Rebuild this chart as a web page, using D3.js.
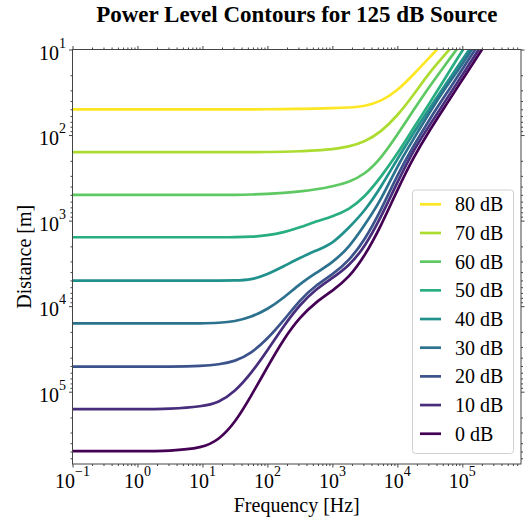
<!DOCTYPE html>
<html>
<head>
  <meta charset='utf-8'>
  <title>Power Level Contours</title>
  <style type='text/css'>
body{
  margin:0;
  background:#fff;
}
svg text{
  font-family: 'Liberation Serif', 'Times New Roman', serif;
  fill:#000;
}
  </style>
</head>
<body>
<div id='chartContainer'></div>

<script src='https://d3js.org/d3.v7.min.js'></script>
<script type='text/javascript'>

// frequency grid [Hz], shared by all curves
var freq = [0.1, 1, 3.16, 10, 17.8, 31.6, 56.2, 100, 178, 316, 562, 1000,
            1780, 3160, 5620, 10000, 17800, 31600, 56200, 100000, 178000, 316000];

// distance [m], one value per frequency
var dist80 = [50, 50, 50, 50, 50, 50, 50, 50, 49.8, 49.4, 49.0, 48.5, 47.8, 46.2, 40.3, 30.4, 19.5, 12.3, 7.7];
var dist70 = [158, 158, 158, 158, 158, 158, 158, 158, 157, 155, 151, 147, 137, 120, 91.7, 59.6, 33.9, 18.2, 11.2, 6.55];
var dist60 = [500, 500, 500, 500, 500, 500, 496, 487, 474, 458, 432, 398, 357, 288, 187, 99.5, 50.7, 26.6, 14.7, 8.1, 4.5];
var dist50 = [1565, 1565, 1565, 1565, 1565, 1565, 1551, 1490, 1374, 1201, 1022, 893, 750, 528, 308, 166, 82.4, 42.0, 20.9, 10.2, 5.4];
var dist40 = [5020, 5020, 5020, 5020, 5020, 5020, 4940, 4260, 3430, 2730, 2230, 1870, 1220, 770, 404, 190, 94.2, 48.1, 25.2, 13.2, 6.9];
var dist30 = [15900, 15900, 15900, 15900, 15700, 15100, 13400, 10900, 8020, 5500, 4080, 3090, 2090, 1120, 573, 229, 111, 53.6, 27.4, 14.9, 7.6];
var dist20 = [51000, 51000, 51000, 50000, 48100, 44300, 35700, 24200, 14700, 8460, 5650, 4290, 2980, 1680, 750, 292, 133, 64.6, 33.2, 17.1, 8.7, 4.5];
var dist10 = [160000, 160000, 159000, 149000, 134000, 100000, 61200, 33000, 17000, 9580, 6290, 4700, 3420, 2030, 905, 357, 149, 76, 38.8, 19.8, 10.1, 5.1];
var dist0  = [494000, 494000, 494000, 455000, 367000, 232000, 112000, 51400, 24200, 13400, 8930, 6640, 4680, 2590, 1150, 437, 180, 87, 44.4, 22.6, 11.5, 5.9];

var levels = [80, 70, 60, 50, 40, 30, 20, 10, 0];
var dists  = [dist80, dist70, dist60, dist50, dist40, dist30, dist20, dist10, dist0];

// tick labels
var xTicks = [0.1, 1, 10, 100, 1e3, 1e4, 1e5];
var xExp   = ['\u22121', '0', '1', '2', '3', '4', '5'];
var yTicks = [10, 100, 1e3, 1e4, 1e5];
var yExp   = ['1', '2', '3', '4', '5'];

var W = 525, H = 520;
var L = 72.5, R = 521, T = 49.5, B = 464;

var svg = d3.select('#chartContainer').append('svg')
    .attr('width', W)
    .attr('height', H);

var x = d3.scaleLog().domain([0.1, 8e5]).range([L, R]);
var y = d3.scaleLog().domain([10, 7e5]).range([T, B]);

// minor ticks 2..9 of each decade
function minors(scale){
  var d = scale.domain(), out = [];
  for (var k = Math.floor(Math.log10(d[0])); k <= Math.ceil(Math.log10(d[1])); k++){
    for (var m = 2; m <= 9; m++){
      var v = m * Math.pow(10, k);
      if (v > d[0] && v < d[1]) out.push(v);
    }
  }
  return out;
}

var axisColor = '#444';

function drawAxis(gen, tx, ty, values, size){
  var g = svg.append('g')
      .attr('transform', 'translate(' + tx + ',' + ty + ')')
      .call(gen.tickValues(values).tickSize(size).tickSizeOuter(0).tickFormat(''));
  g.select('.domain').remove();
  g.selectAll('line').attr('stroke', axisColor).attr('stroke-width', 1);
}

[[d3.axisBottom, 0, B], [d3.axisTop, 0, T]].forEach(function(a){
  drawAxis(a[0](x), a[1], a[2], xTicks, 3.5);
  drawAxis(a[0](x), a[1], a[2], minors(x), 2);
});
[[d3.axisLeft, L, 0], [d3.axisRight, R, 0]].forEach(function(a){
  drawAxis(a[0](y), a[1], a[2], yTicks, 3.5);
  drawAxis(a[0](y), a[1], a[2], minors(y), 2);
});

// tick labels as 10^n
xTicks.forEach(function(v, i){
  var t = svg.append('text')
      .attr('x', x(v))
      .attr('y', 488)
      .style('text-anchor', 'middle')
      .style('font-size', '20px');
  t.append('tspan').text('10');
  t.append('tspan').attr('dy', -12).style('font-size', '14px').text(xExp[i]);
});
yTicks.forEach(function(v, i){
  var t = svg.append('text')
      .attr('x', 66)
      .attr('y', y(v) + 10.3)
      .style('text-anchor', 'end')
      .style('font-size', '20px');
  t.append('tspan').text('10');
  t.append('tspan').attr('dy', -12).style('font-size', '14px').text(yExp[i]);
});

// contours
svg.append('clipPath').attr('id', 'plotClip')
  .append('rect')
    .attr('x', L).attr('y', T)
    .attr('width', R - L).attr('height', B - T);

var line = d3.line()
    .x(function(d){ return x(d[0]); })
    .y(function(d){ return y(d[1]); })
    .curve(d3.curveBasis);

var curves = svg.append('g').attr('clip-path', 'url(#plotClip)');
levels.forEach(function(lv, i){
  var pts = dists[i].map(function(r, j){ return [freq[j], r]; });
  curves.append('path')
      .attr('d', line(pts))
      .attr('fill', 'none')
      .attr('stroke', d3.interpolateViridis(lv / 80))
      .attr('stroke-width', 2.7)
      .attr('stroke-linecap', 'round');
});

// frame
svg.append('rect')
    .attr('x', L).attr('y', T)
    .attr('width', R - L).attr('height', B - T)
    .attr('fill', 'none')
    .attr('stroke', axisColor)
    .attr('stroke-width', 1);

// legend
var leg = svg.append('g');
leg.append('rect')
    .attr('x', 412.5).attr('y', 190)
    .attr('width', 101).attr('height', 263.5)
    .attr('rx', 3)
    .attr('fill', 'white').attr('fill-opacity', 0.8)
    .attr('stroke', '#d0d0d0');
levels.forEach(function(lv, i){
  var ly = 204.3 + i * 28.68;
  leg.append('line')
      .attr('x1', 420).attr('x2', 441)
      .attr('y1', ly).attr('y2', ly)
      .attr('stroke', d3.interpolateViridis(lv / 80))
      .attr('stroke-width', 2.7);
  leg.append('text')
      .attr('x', 455)
      .attr('y', ly + 7)
      .style('font-size', '20px')
      .text(lv + ' dB');
});

// titles
svg.append('text')
    .attr('x', (L + R) / 2)
    .attr('y', 22)
    .style('text-anchor', 'middle')
    .style('font-weight', 'bold')
    .style('font-size', '23px')
    .text('Power Level Contours for 125 dB Source');

svg.append('text')
    .attr('x', (L + R) / 2)
    .attr('y', 512)
    .style('text-anchor', 'middle')
    .style('font-size', '20px')
    .text('Frequency [Hz]');

svg.append('text')
    .attr('transform', 'translate(31,' + (T + B) / 2 + ') rotate(-90)')
    .style('text-anchor', 'middle')
    .style('font-size', '20px')
    .text('Distance [m]');

</script>
</body>
</html>
